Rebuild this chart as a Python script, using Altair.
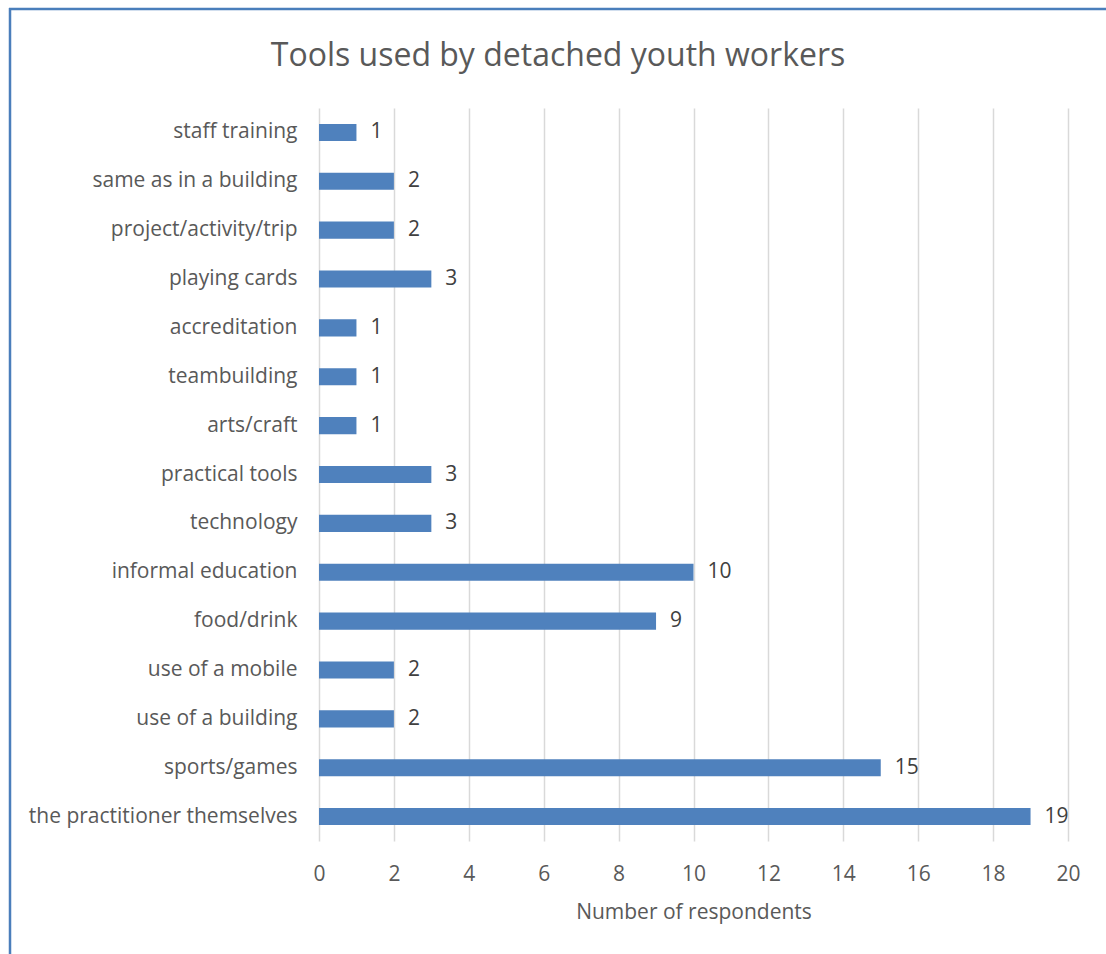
import altair as alt
import pandas as pd

categories = [
    "staff training",
    "same as in a building",
    "project/activity/trip",
    "playing cards",
    "accreditation",
    "teambuilding",
    "arts/craft",
    "practical tools",
    "technology",
    "informal education ",
    "food/drink",
    "use of a mobile ",
    "use of a building",
    "sports/games",
    "the practitioner themselves",
]
values = [1, 2, 2, 3, 1, 1, 1, 3, 3, 10, 9, 2, 2, 15, 19]
x_ticks = [0, 2, 4, 6, 8, 10, 12, 14, 16, 18, 20]
chart_title = ["Tools used by detached youth workers"]

df = pd.DataFrame({"tool": categories, "count": values})
title_df = pd.DataFrame({"t": chart_title})

FONT = "Open Sans"
GREY = "#595959"
BLUE = "#4f81bd"

x_enc = alt.X(
    "count:Q",
    scale=alt.Scale(domain=[0, 20], nice=False),
    axis=alt.Axis(
        values=x_ticks,
        title="Number of respondents",
        titleFontSize=21,
        titleFont=FONT,
        titleFontWeight="normal",
        titleColor=GREY,
        titlePadding=17,
        labelFontSize=21,
        labelFont=FONT,
        labelColor=GREY,
        labelPadding=22,
        labelFlush=False,
        ticks=False,
        domain=False,
        grid=True,
        gridColor="#d9d9d9",
        gridWidth=1.5,
    ),
)
y_enc = alt.Y(
    "tool:N",
    sort=categories,
    scale=alt.Scale(paddingInner=0.65, paddingOuter=0.325),
    axis=alt.Axis(
        title=None,
        labelFontSize=21,
        labelFont=FONT,
        labelColor=GREY,
        labelPadding=22,
        ticks=False,
        domain=False,
        grid=False,
        labelLimit=400,
    ),
)

base = alt.Chart(df)

bars = base.mark_bar(color=BLUE).encode(x=x_enc, y=y_enc)

labels = base.mark_text(
    align="left", baseline="middle", dx=14, fontSize=21, font=FONT, color="#404040"
).encode(x="count:Q", y=alt.Y("tool:N", sort=categories), text="count:Q")

title_mark = alt.Chart(title_df).mark_text(
    align="center", baseline="middle", fontSize=32, font=FONT, color=GREY
).encode(x=alt.value(239), y=alt.value(-52), text="t:N")

left_border = alt.Chart(title_df).mark_rule(color="#4a7ebb", strokeWidth=2.5).encode(
    x=alt.value(-309), y=alt.value(-100), y2=alt.value(860)
)
top_border = alt.Chart(title_df).mark_rule(color="#4a7ebb", strokeWidth=2.5).encode(
    x=alt.value(-310), x2=alt.value(800), y=alt.value(-99)
)

chart = (
    alt.layer(bars, labels, title_mark, left_border, top_border)
    .properties(
        width=749,
        height=733,
        autosize=alt.AutoSizeParams(type="none"),
        padding={"left": 319, "top": 108, "right": 38, "bottom": 113},
        view=alt.ViewBackground(stroke="transparent", strokeOpacity=0, strokeWidth=0),
    )
    .configure_view(stroke="transparent", strokeOpacity=0, strokeWidth=0)
    .configure(background="white")
)

chart.save("out.html", embed_options={"renderer": "svg", "actions": False})
